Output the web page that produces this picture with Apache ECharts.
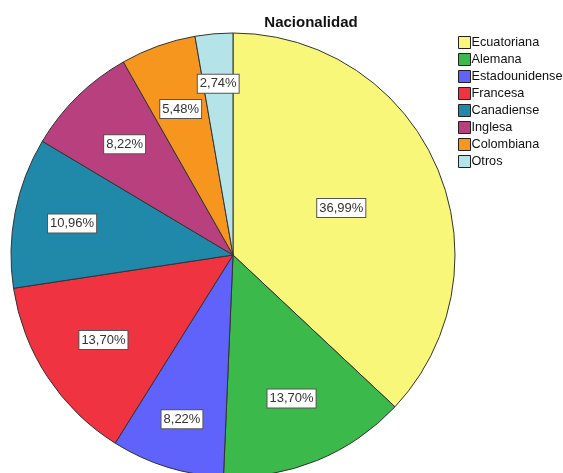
<!DOCTYPE html>
<html>
<head>
<meta charset="utf-8">
<script src="https://cdn.jsdelivr.net/npm/echarts@6/dist/echarts.min.js"></script>
<style>
html, body { margin: 0; padding: 0; background: #fff; }
#chart { width: 563px; height: 473px; }
</style>
</head>
<body>
<div id="chart"></div>
<script>
// Nacionalidad - frecuencias (n = 73)
const categories = ["Ecuatoriana", "Alemana", "Estadounidense", "Francesa", "Canadiense", "Inglesa", "Colombiana", "Otros"];
const counts = [27, 10, 6, 10, 8, 6, 4, 2];
const colors = ["#f9f77a", "#3cb94b", "#6063fb", "#ef3340", "#2088a8", "#b9407f", "#f7961f", "#b4e4e7"];

const total = counts.reduce((a, b) => a + b, 0);
const pct = v => (v / total * 100).toFixed(2).replace(".", ",") + "%";

// how far from the centre each label sits (SPSS nudges them a bit)
const labelRing = [230, 304, 338, 304, 322, 304, 304, 338];
const rings = [...new Set(labelRing)];

const center = [233, 255];

let series = [
	{
		type: "pie",
		name: "Nacionalidad",
		center: center,
		radius: 222,
		startAngle: 90,
		clockwise: true,
		silent: true,
		label: { show: false },
		labelLine: { show: false },
		itemStyle: { borderColor: "#333", borderWidth: 1 },
		data: categories.map((c, i) => ({
			name: c,
			value: counts[i],
			itemStyle: { color: colors[i] }
		}))
	}
];

rings.forEach(r => {
	series.push({
		type: "pie",
		center: center,
		radius: r,
		startAngle: 90,
		silent: true,
		labelLine: { show: false },
		itemStyle: { color: "rgba(0,0,0,0)", borderWidth: 0 },
		label: {
			show: true,
			position: "inside",
			formatter: p => pct(p.value),
			color: "#333",
			fontFamily: "Liberation Sans, Arial, sans-serif",
			fontSize: 13,
			backgroundColor: "#fff",
			borderColor: "#555",
			borderWidth: 1,
			padding: [3, 2, 2, 2]
		},
		data: categories.map((c, i) => ({
			name: c,
			value: counts[i],
			label: { show: labelRing[i] === r }
		}))
	});
});

let chart = echarts.init(document.getElementById("chart"));
chart.setOption({
	animation: false,
	title: {
		text: "Nacionalidad",
		left: 306,
		top: 10,
		textAlign: "center",
		textStyle: {
			fontFamily: "Liberation Sans, Arial, sans-serif",
			fontSize: 15,
			fontWeight: "bold",
			color: "#111"
		}
	},
	legend: {
		orient: "vertical",
		left: 458,
		top: 36,
		padding: 0,
		itemWidth: 12,
		itemHeight: 12,
		itemGap: 4,
		icon: "rect",
		data: categories,
		itemStyle: { borderColor: "#222", borderWidth: 1 },
		textStyle: {
			fontFamily: "Liberation Sans, Arial, sans-serif",
			fontSize: 12.7,
			color: "#111",
			padding: [0, 0, 0, -4]
		}
	},
	series: series
});
</script>
</body>
</html>
